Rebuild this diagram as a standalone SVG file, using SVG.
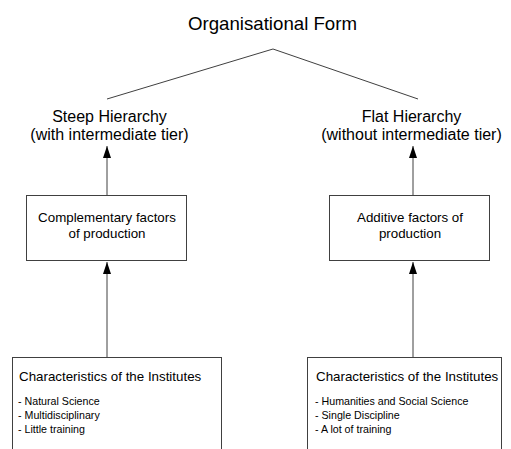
<svg xmlns="http://www.w3.org/2000/svg" width="511" height="449" viewBox="0 0 511 449">
<style>
text{font-family:"Liberation Sans",Arial,sans-serif;fill:#000}
.t{font-size:18.67px;text-anchor:middle}
.h{font-size:16px;text-anchor:middle}
.m{font-size:13.33px;text-anchor:middle}
.c{font-size:13.33px}
.l{font-size:10.67px}
.box{fill:#fff;stroke:#404040;stroke-width:1}
.ln{stroke:#404040;stroke-width:1;fill:none}
</style>
<defs>
<marker id="ah" viewBox="0 0 12 8" refX="12" refY="4" markerWidth="12" markerHeight="8" markerUnits="userSpaceOnUse" orient="auto">
<path d="M0,0 L12,4 L0,8 Z" fill="#000"/>
</marker>
</defs>
<rect width="511" height="449" fill="#fff"/>
<g id="connectors">
<polyline class="ln" points="107,99 273,49 418,99"/>
<line class="ln" x1="107" y1="195" x2="107" y2="146" marker-end="url(#ah)"/>
<line class="ln" x1="413" y1="195" x2="413" y2="146" marker-end="url(#ah)"/>
<line class="ln" x1="107" y1="357" x2="107" y2="262" marker-end="url(#ah)"/>
<line class="ln" x1="413" y1="357" x2="413" y2="262" marker-end="url(#ah)"/>
</g>
<g id="title">
<text class="t" x="272.5" y="30">Organisational Form</text>
</g>
<g id="steep">
<text class="h" x="109.5" y="122">Steep Hierarchy</text>
<text class="h" x="109.5" y="140">(with intermediate tier)</text>
</g>
<g id="flat">
<text class="h" x="411.5" y="122">Flat Hierarchy</text>
<text class="h" x="411.5" y="140">(without intermediate tier)</text>
</g>
<g id="complementary">
<rect class="box" x="26.5" y="195.5" width="160" height="65"/>
<text class="m" x="107" y="222">Complementary factors</text>
<text class="m" x="107" y="238">of production</text>
</g>
<g id="additive">
<rect class="box" x="329.5" y="195.5" width="160" height="65"/>
<text class="m" x="410" y="222">Additive factors of</text>
<text class="m" x="410" y="238">production</text>
</g>
<g id="inst-left">
<rect class="box" x="12.5" y="357.5" width="209" height="110"/>
<text class="c" x="19" y="381">Characteristics of the Institutes</text>
<text class="l" x="18" y="405">- Natural Science</text>
<text class="l" x="18" y="419">- Multidisciplinary</text>
<text class="l" x="18" y="433">- Little training</text>
</g>
<g id="inst-right">
<rect class="box" x="307.5" y="357.5" width="194" height="110"/>
<text class="c" x="316" y="381">Characteristics of the Institutes</text>
<text class="l" x="315" y="405">- Humanities and Social Science</text>
<text class="l" x="315" y="419">- Single Discipline</text>
<text class="l" x="315" y="433">- A lot of training</text>
</g>
</svg>
